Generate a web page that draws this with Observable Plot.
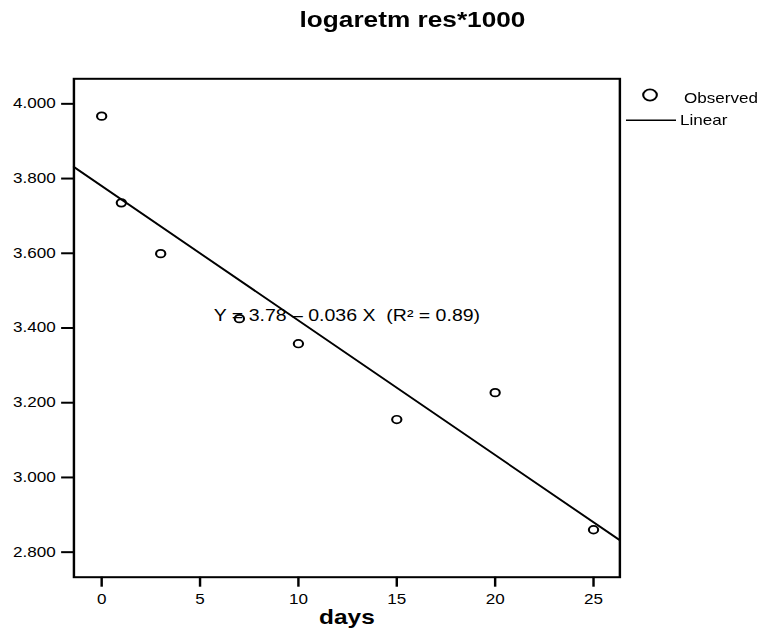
<!DOCTYPE html>
<html>
<head>
<meta charset="utf-8">
<script src="https://cdn.jsdelivr.net/npm/d3@7"></script>
<script src="https://cdn.jsdelivr.net/npm/@observablehq/plot@0.6"></script>
<style>
  html, body { margin: 0; padding: 0; background: #fff; }
  /* the chart is laid out narrow and widened horizontally */
  #chart { width: 625px; transform: scaleX(1.22); transform-origin: 0 0; }
</style>
</head>
<body>
<div id="chart"></div>
<script>
// Observed values
const days = [0, 1, 3, 7, 10, 15, 20, 25];
const logRes = [3.967, 3.735, 3.599, 3.425, 3.358, 3.155, 3.227, 2.860];

// Linear fit, as stated in the equation label
const intercept = 3.78;
const slope = -0.036;
const rSquared = 0.89;

// Axes
const xTicks = [0, 5, 10, 15, 20, 25];
const yTicks = [2.8, 3.0, 3.2, 3.4, 3.6, 3.8, 4.0];
const xDomain = [-1.41, 26.34];
const yDomain = [2.733, 4.067];

const titleText = "logaretm res*1000";
const xLabel = "days";
const legendLabels = ["Observed", "Linear"];

const points = days.map((d, i) => ({day: d, value: logRes[i]}));
const fitLine = xDomain.map(x => ({day: x, value: intercept + slope * x}));
const equation = `Y = ${intercept.toFixed(2)} – ${Math.abs(slope).toFixed(3)} X\u00a0\u00a0(R² = ${rSquared.toFixed(2)})`;
const xMid = (xDomain[0] + xDomain[1]) / 2;

const W = 625, H = 644;
const FONT = "'Liberation Sans', Arial, Helvetica, sans-serif";

const chart = Plot.plot({
  width: W,
  height: H,
  marginLeft: 60.1,
  marginRight: W - 507.6,
  marginTop: 78.3,
  marginBottom: H - 576.7,
  style: {fontFamily: FONT, fontSize: "14px", color: "#000", background: "#fff", overflow: "visible"},
  x: {domain: xDomain},
  y: {domain: yDomain},
  marks: [
    Plot.axisY(yTicks, {tickSize: 10, tickPadding: 5, tickFormat: d3.format(".3f"), strokeWidth: 2, label: null, fontSize: 14}),
    Plot.axisX(xTicks, {tickSize: 10, tickPadding: 7, tickFormat: d3.format("d"), strokeWidth: 2, label: null, fontSize: 14}),
    Plot.line(fitLine, {x: "day", y: "value", stroke: "#000", strokeWidth: 1.8}),
    Plot.dot(points, {x: "day", y: "value", r: 3.8, stroke: "#000", strokeWidth: 1.7, fill: "none"}),
    Plot.text([equation], {x: () => xMid, y: () => 3.420, text: d => d, lineAnchor: "bottom", fontSize: 16, fill: "#000"}),
    Plot.text([xLabel], {frameAnchor: "bottom", dy: 46.3, text: d => d, lineAnchor: "bottom", fontWeight: "bold", fontSize: 20, fill: "#000"}),
    Plot.frame({stroke: "#000", strokeWidth: 2})
  ]
});

const svg = d3.select(chart);

// Title
svg.append("text")
  .attr("x", 338.1).attr("y", 27)
  .attr("text-anchor", "middle")
  .attr("font-family", FONT).attr("font-weight", "bold").attr("font-size", 21.5)
  .attr("fill", "#000")
  .text(titleText);

// Legend
const legend = svg.append("g")
  .attr("font-family", FONT).attr("font-size", 14).attr("fill", "#000")
  .attr("text-anchor", "start");
legend.append("circle")
  .attr("cx", 532.8).attr("cy", 95).attr("r", 5.6)
  .attr("fill", "none").attr("stroke", "#000").attr("stroke-width", 1.7);
legend.append("text").attr("x", 560.7).attr("y", 103.3).text(legendLabels[0]);
legend.append("line")
  .attr("x1", 513.1).attr("x2", 554.1).attr("y1", 120.3).attr("y2", 120.3)
  .attr("stroke", "#000").attr("stroke-width", 1.6);
legend.append("text").attr("x", 557.4).attr("y", 125).text(legendLabels[1]);

document.getElementById("chart").appendChild(chart);
</script>
</body>
</html>
